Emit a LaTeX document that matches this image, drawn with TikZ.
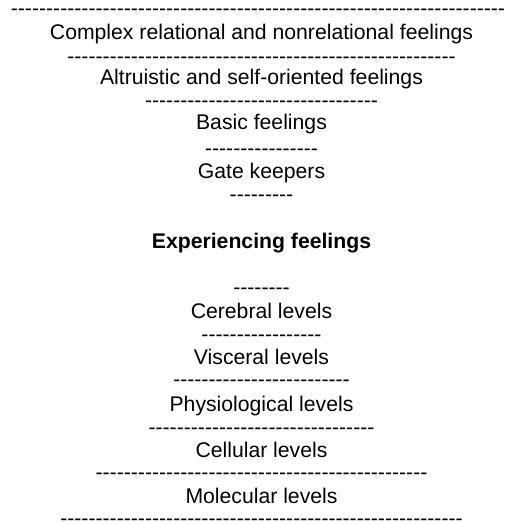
\documentclass[tikz,border=0pt]{standalone}
\usepackage{fontspec}
\setmainfont{Liberation Sans}[Ligatures=TeXOff]
\newcount\hycnt
\newcommand\hyrow[1]{\hycnt=0 \loop\ifnum\hycnt<#1 -\advance\hycnt by 1 \repeat}
\begin{document}
\begin{tikzpicture}[x=1pt,y=-1pt]
\tikzset{
  lbl/.style={anchor=base,inner sep=0pt,font=\fontsize{21.2}{25}\selectfont},
  dsh/.style={anchor=base,inner sep=0pt,font=\fontsize{21.2}{25}\selectfont}
}
\useasboundingbox (0,0) rectangle (505,522);
\def\cx{261.5}
\node[dsh] (d1) at (\cx,16) {\hyrow{71}};
\node[lbl] (t1) at (\cx,39) {Complex relational and nonrelational feelings};
\node[dsh] (d2) at (\cx,63) {\hyrow{55}};
\node[lbl] (t2) at (\cx,84) {Altruistic and self-oriented feelings};
\node[dsh] (d3) at (\cx,107) {\hyrow{33}};
\node[lbl] (t3) at (\cx,129) {Basic feelings};
\node[dsh] (d4) at (\cx,155) {\hyrow{16}};
\node[lbl] (t4) at (\cx,178) {Gate keepers};
\node[dsh] (d5) at (\cx,201) {\hyrow{9}};
\node[lbl] (t5) at (\cx,248) {\bfseries Experiencing feelings};
\node[dsh] (d6) at (\cx,294) {\hyrow{8}};
\node[lbl] (t6) at (\cx,318) {Cerebral levels};
\node[dsh] (d7) at (\cx,341) {\hyrow{17}};
\node[lbl] (t7) at (\cx,364) {Visceral levels};
\node[dsh] (d8) at (\cx,386) {\hyrow{25}};
\node[lbl] (t8) at (\cx,411) {Physiological levels};
\node[dsh] (d9) at (\cx,434) {\hyrow{32}};
\node[lbl] (t9) at (\cx,457) {Cellular levels};
\node[dsh] (d10) at (\cx,479) {\hyrow{47}};
\node[lbl] (t10) at (\cx,503) {Molecular levels};
\node[dsh] (d11) at (\cx,525) {\hyrow{57}};
\end{tikzpicture}
\end{document}
